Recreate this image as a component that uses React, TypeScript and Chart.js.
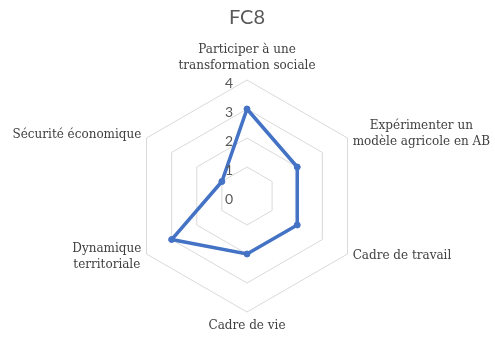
import React, { useEffect, useRef } from "react";
import { Chart, registerables } from "chart.js";

Chart.register(...registerables);

const categories: string[][] = [
  ["Participer à une", "transformation sociale"],
  ["Expérimenter un", "modèle agricole en AB"],
  ["Cadre de travail"],
  ["Cadre de vie"],
  ["Dynamique", "territoriale"],
  ["Sécurité économique"],
];
const seriesValues = [3, 2, 2, 2, 3, 1];
const tickLabels = [0, 1, 2, 3, 4];
const chartTitle = "FC8";

const LABEL_FONT = "12px 'DejaVu Serif'";
const LINE_H = 16;

const labelPlugin = {
  id: "customLabels",
  afterDraw(chart: any) {
    const scale = chart.scales.r;
    const ctx = chart.ctx;
    ctx.save();
    // ticks to the left of the vertical axis
    ctx.font = "14px Lato";
    ctx.fillStyle = "#595959";
    ctx.textAlign = "center";
    ctx.textBaseline = "middle";
    tickLabels.forEach((v) => {
      const d = scale.getDistanceFromCenterForValue(v);
      ctx.fillText(String(v), scale.xCenter - 18, scale.yCenter - d + 3);
    });
    // point labels, multi-line centered
    ctx.font = LABEL_FONT;
    ctx.fillStyle = "#404040";
    ctx.textBaseline = "middle";
    categories.forEach((lines, i) => {
      const p = scale.getPointPosition(i, scale.drawingArea + 6);
      const dx = p.x - scale.xCenter;
      const dy = p.y - scale.yCenter;
      const w = Math.max(...lines.map((l) => ctx.measureText(l).width));
      const h = lines.length * LINE_H;
      let cx: number;
      let top: number;
      if (Math.abs(dx) < 2) {
        cx = p.x;
        top = dy < 0 ? p.y - h : p.y;
      } else if (dx > 0) {
        cx = p.x + w / 2;
        top = p.y - h / 2 - 1;
      } else {
        cx = p.x - w / 2;
        top = p.y - h / 2;
      }
      ctx.textAlign = "center";
      lines.forEach((l, k) => {
        ctx.fillText(l, cx, top + LINE_H * k + LINE_H / 2);
      });
    });
    ctx.restore();
  },
};

export default function App() {
  const ref = useRef<HTMLCanvasElement>(null);
  useEffect(() => {
    document.body.style.margin = "0";
    const chart = new Chart(ref.current!, {
      type: "radar",
      data: {
        labels: categories.map((l) => l.join(" ")),
        datasets: [
          {
            data: seriesValues,
            borderColor: "#4472C4",
            backgroundColor: "#4472C4",
            borderWidth: 3.5,
            pointRadius: 3,
            pointBorderWidth: 1,
            pointBackgroundColor: "#4472C4",
            pointBorderColor: "#4472C4",
            fill: false,
          },
        ],
      },
      options: {
        responsive: false,
        animation: false,
        layout: { padding: { left: 47, right: 48, top: 4, bottom: 26 } },
        plugins: {
          legend: { display: false },
          tooltip: { enabled: false },
          title: {
            display: true,
            text: chartTitle,
            color: "#595959",
            font: { family: "Lato", size: 20, weight: "normal", lineHeight: 1.2 },
            padding: { top: 2, bottom: 50 },
          },
        },
        scales: {
          r: {
            min: 0,
            max: 4,
            ticks: { display: false, stepSize: 1 },
            angleLines: { display: false },
            grid: { color: "#D9D9D9", lineWidth: 1 },
            pointLabels: { display: false },
          },
        },
      },
      plugins: [labelPlugin],
    });
    return () => chart.destroy();
  }, []);
  return (
    <div style={{ width: 495, height: 338 }}>
      <canvas ref={ref} width={495} height={338} />
    </div>
  );
}
